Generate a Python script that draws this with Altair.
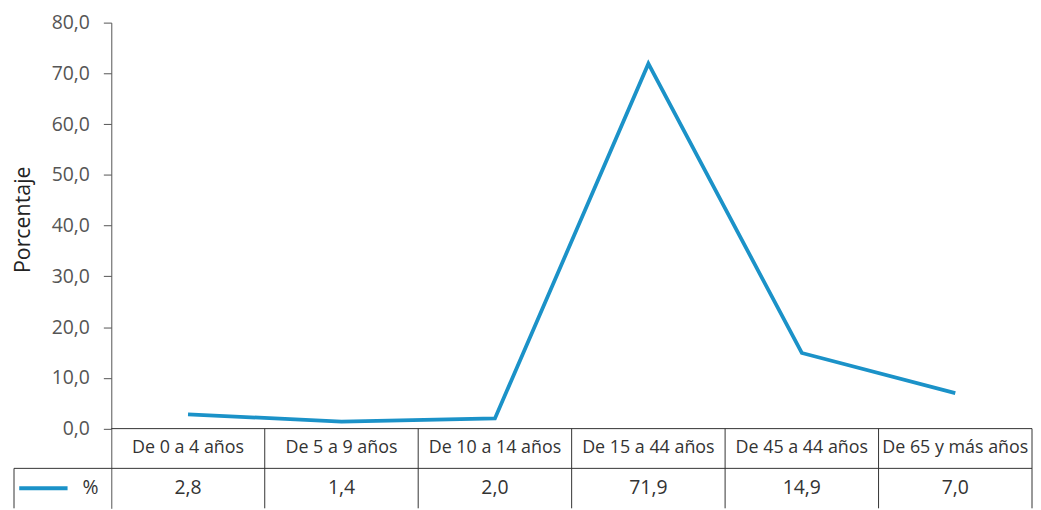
import altair as alt
import pandas as pd

# ---- data ----
categories = ["De 0 a 4 años", "De 5 a 9 años", "De 10 a 14 años",
              "De 15 a 44 años", "De 45 a 44 años", "De 65 y más años"]
values = [2.8, 1.4, 2.0, 71.9, 14.9, 7.0]
y_ticks = [0, 10, 20, 30, 40, 50, 60, 70, 80]
series_name = "%"
y_title = "Porcentaje"

# ---- layout constants (data units of the shared scales) ----
N = len(categories)
ROW1 = -7.83          # bottom of category row
ROW2 = -15.7          # bottom of value row
LEG_LEFT = -0.634     # left edge of legend cell
BLUE = "#1b92c8"
LINE_C = "#333333"
FONT = "Open Sans"

xs = alt.Scale(domain=[0, N], nice=False, zero=False)
ys = alt.Scale(domain=[ROW2, 80], nice=False, zero=False)
yaxis = alt.Axis(
    values=y_ticks, grid=False,
    labelExpr="replace(format(datum.value, '.1f'), '.', ',')",
    tickSize=8, labelPadding=14, labelFontSize=19.5, labelFont=FONT,
    labelColor="#555555", domainColor="#555555", tickColor="#555555",
    title=y_title, titleFont=FONT, titleFontSize=21.5, titleFontWeight="normal",
    titleColor="#222222", titlePadding=17, titleY=198,
)

def X(f="x"):
    return alt.X(f + ":Q", scale=xs, axis=None)

def Y(f="y"):
    return alt.Y(f + ":Q", scale=ys, axis=yaxis)

df = pd.DataFrame({
    "cat": categories,
    "x": [i + 0.5 for i in range(N)],
    "y": values,
    "label": [f"{v:.1f}".replace(".", ",") for v in values],
})
df["row1"] = ROW1 / 2
df["row2"] = (ROW1 + ROW2) / 2

line = alt.Chart(df).mark_line(color=BLUE, strokeWidth=3.8).encode(x=X(), y=Y())

cat_text = alt.Chart(df).mark_text(fontSize=18, font=FONT, color="#333333", baseline="middle").encode(
    x=X(), y=Y("row1"), text="cat:N")
val_text = alt.Chart(df).mark_text(fontSize=19.5, font=FONT, color="#333333", baseline="middle").encode(
    x=X(), y=Y("row2"), text="label:N")

hlines = pd.DataFrame({"x": [0, LEG_LEFT], "x2": [N, N], "y": [0, ROW1]})
h = alt.Chart(hlines).mark_rule(color=LINE_C, strokeWidth=1).encode(
    x=X(), x2="x2:Q", y=Y())

vlines = pd.DataFrame({"x": list(range(1, N + 1)) + [LEG_LEFT],
                       "y": [0] * N + [ROW1], "y2": [ROW2] * (N + 1)})
v = alt.Chart(vlines).mark_rule(color=LINE_C, strokeWidth=1).encode(
    x=X(), y=Y(), y2="y2:Q")

leg = pd.DataFrame({"x": [-0.6], "x2": [-0.285], "y": [(ROW1 + ROW2) / 2],
                    "tx": [-0.135], "t": [series_name]})
leg_line = alt.Chart(leg).mark_rule(color=BLUE, strokeWidth=4).encode(
    x=X(), x2="x2:Q", y=Y())
leg_text = alt.Chart(leg).mark_text(fontSize=19.5, font=FONT, color="#333333", baseline="middle").encode(
    x=X("tx"), y=Y(), text="t:N")

chart = alt.layer(h, v, line, cat_text, val_text, leg_line, leg_text).properties(
    width=927, height=489,
    padding={"left": 4, "top": 3, "right": 0, "bottom": 0},
).configure_view(stroke=None)

chart.save("out.html", embed_options={"renderer": "svg", "actions": False})
